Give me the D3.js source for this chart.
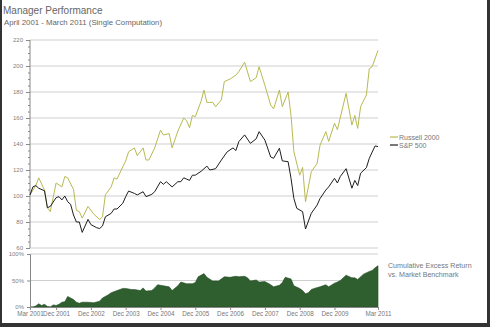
<!DOCTYPE html>
<html><head><meta charset="utf-8">
<script src="https://cdn.jsdelivr.net/npm/d3@7"></script>
<style>
html,body{margin:0;padding:0;background:#fff;}
svg{display:block;font-family:Arial,"Liberation Sans",sans-serif;}
</style></head>
<body><svg id="c" width="490" height="327"></svg>
<script>
// months since Mar 2001
const russellMonths = [0,2,3,5,6,7,9,11,12,13,15,16,17,18,20,22,24,25,26,28,29,30,32,33,34,36,37,39,40,41,43,45,46,48,49,51,53,54,55,56,57,59,60,61,63,64,66,67,69,71,72,74,76,78,79,81,83,84,86,87,89,90,91,93,94,95,97,99,100,102,103,105,106,109,111,112,113,114,116,117,118,120];
const russellValues = [100.8,108,114,104.6,91,88,110,107,115,114,105,89,88,83,92,86,82,84,101,107,114,113,122.5,127,134,137,131,137,127.7,127.7,137,150.7,147,148,137,150,160,158,152.5,162,161,173,181.5,172,172,168.7,174,188,190,193,195.6,203,188,191,199.5,185,170,167,181.5,168.7,180,162,134,116,122,95.6,118.7,125,139,149.5,142,156,151,179,154.6,162,152,168.7,177.7,198,199.5,212];
const spMonths = [0,1,2,3,5,6,7,9,10,11,12,13,14,15,16,17,18,20,21,23,24,25,26,28,29,30,32,33,34,36,37,39,40,42,43,45,46,47,49,51,52,53,54,55,56,57,59,61,62,64,66,68,70,71,72,74,76,78,79,81,83,84,86,87,89,90,91,92,94,95,97,99,100,102,103,105,106,107,109,111,112,113,114,116,117,118,119,120];
const spValues = [100.8,107,108,106,104,91,92,98.7,99.5,97,100,95.6,93.6,85.4,80,80,72,82,78,75.6,75,77,84,86.7,90,90,94.4,99.5,103.8,102,100.8,103.3,99.5,101.3,103.3,111,109,111,107,111,111,114,113,112,116,116,119,123,120,121,127.7,134,137,135,141.8,147,140.5,144,149.5,143,130,129,136.7,127,126.4,113.6,98,90.5,88,74.6,86.7,93,98,104.6,107,113.6,110,115,121,106,112,108,117.5,121.8,129,133.8,138.5,138];
const excessMonths = [0,1,2,3,4,5,6,7,8,9,10,11,12,13,14,15,16,17,18,20,22,24,25,27,28,30,32,33,35,36,38,39,40,42,43,44,46,48,49,51,52,54,56,57,58,60,61,63,65,67,69,71,72,74,75,76,78,79,81,83,84,86,87,88,90,91,93,94,95,96,97,98,100,102,103,105,106,107,109,111,112,113,115,117,118,119,120];
const excessValues = [0,0,2,6,3,5,1,0,4,3,5,9,10,20,17,14,9,7,9,9,8,11,17,23,27,31,35,35,33,33,31,36,30,31,36,42,40,38,31,40,47,44,44,46,57,63,56,49,49,57,56,58,57,58,55,49,51,47,48,42,38,41,46,56,53,40,35,31,25,27,33,35,38,42,38,45,47,50,60,55,55,52,62,67,69,74,78];
const mainTicks = [60,80,100,120,140,160,180,200,220];
const pctTicks = [0,50,100];
const xTickMonths = [0,9,21,33,45,57,69,81,93,105,120];
const xTickLabels = ["Mar 2001","Dec 2001","Dec 2002","Dec 2003","Dec 2004","Dec 2005","Dec 2006","Dec 2007","Dec 2008","Dec 2009","Mar 2011"];
const seriesNames = ["Russell 2000","S&P 500"];
const seriesColors = ["#b8ba52","#1e1e1e"];

const svg = d3.select("#c");
const x = d3.scaleLinear().domain([0,120]).range([30,378]);
const y = d3.scaleLinear().domain([60,220]).range([248,40]);
const y2 = d3.scaleLinear().domain([0,100]).range([307,254]);

// title
svg.append("text").attr("x",3).attr("y",14).attr("font-size",10).attr("fill","#666").text("Manager Performance");
svg.append("text").attr("x",4).attr("y",25).attr("font-size",7.8).attr("fill","#666").text("April 2001 - March 2011 (Single Computation)");

// main grid
svg.append("g").selectAll("line").data(mainTicks).join("line")
  .attr("x1",30).attr("x2",378).attr("y1",d=>y(d)).attr("y2",d=>y(d))
  .attr("stroke","#cfcfcf").attr("stroke-width",1);
// main axis
const ya = svg.append("g").attr("transform","translate(30,0)")
  .call(d3.axisLeft(y).tickValues(mainTicks).tickSize(4).tickPadding(3));
ya.selectAll("text").attr("font-size",6).attr("fill","#808080");
ya.selectAll("line,path").attr("stroke","#888");
ya.select(".domain").attr("d","M0,40V248");
const minor = d3.range(60,221,5).filter(v=>v%20!==0);
svg.append("g").selectAll("line").data(minor).join("line")
  .attr("x1",28).attr("x2",30).attr("y1",d=>y(d)+0.5).attr("y2",d=>y(d)+0.5).attr("stroke","#888");

const line = d3.line().x(d=>x(d[0])).y(d=>y(d[1]));
const rData = russellMonths.map((m,i)=>[m,russellValues[i]]);
const sData = spMonths.map((m,i)=>[m,spValues[i]]);
svg.append("path").datum(rData).attr("d",line).attr("fill","none").attr("stroke",seriesColors[0]).attr("stroke-width",1);
svg.append("path").datum(sData).attr("d",line).attr("fill","none").attr("stroke",seriesColors[1]).attr("stroke-width",1);

// legend
const lg = svg.append("g").selectAll("g").data(seriesNames).join("g")
  .attr("transform",(d,i)=>`translate(390,${137+i*8})`);
lg.append("line").attr("x1",0).attr("x2",8).attr("y1",0).attr("y2",0).attr("stroke",(d,i)=>seriesColors[i]).attr("stroke-width",1.2);
lg.append("text").attr("x",9).attr("y",2.5).attr("font-size",7).attr("fill","#777").text(d=>d);

// bottom chart
svg.append("g").selectAll("line").data([50,100]).join("line")
  .attr("x1",30).attr("x2",378).attr("y1",d=>y2(d)).attr("y2",d=>y2(d))
  .attr("stroke","#cfcfcf");
const eData = excessMonths.map((m,i)=>[m,excessValues[i]]);
const area = d3.area().x(d=>x(d[0])).y0(y2(0)).y1(d=>y2(d[1]));
svg.append("path").datum(eData).attr("d",area).attr("fill","#2f5f2f").attr("stroke","#264d26").attr("stroke-width",0.6);

const y2a = svg.append("g").attr("transform","translate(30,0)")
  .call(d3.axisLeft(y2).tickValues(pctTicks).tickFormat(d=>d+"%").tickSize(3).tickPadding(3));
y2a.selectAll("text").attr("font-size",6).attr("fill","#808080");
y2a.selectAll("line,path").attr("stroke","#888");

const xa = svg.append("g").attr("transform","translate(0,307)")
  .call(d3.axisBottom(x).tickValues(xTickMonths).tickFormat((d,i)=>xTickLabels[i]).tickSize(3).tickPadding(2));
xa.selectAll("text").attr("font-size",6.3).attr("fill","#777");
xa.selectAll("line,path").attr("stroke","#888");

svg.append("text").attr("x",388).attr("y",268).attr("font-size",7.1).attr("fill","#777").text("Cumulative Excess Return");
svg.append("text").attr("x",388).attr("y",277).attr("font-size",7.1).attr("fill","#777").text("vs. Market Benchmark");

// frame
svg.append("rect").attr("x",0).attr("y",0).attr("width",2).attr("height",327).attr("fill","#333");
svg.append("rect").attr("x",487).attr("y",0).attr("width",3).attr("height",327).attr("fill","#333");
svg.append("rect").attr("x",0).attr("y",323).attr("width",490).attr("height",4).attr("fill","#333");
</script></body></html>
